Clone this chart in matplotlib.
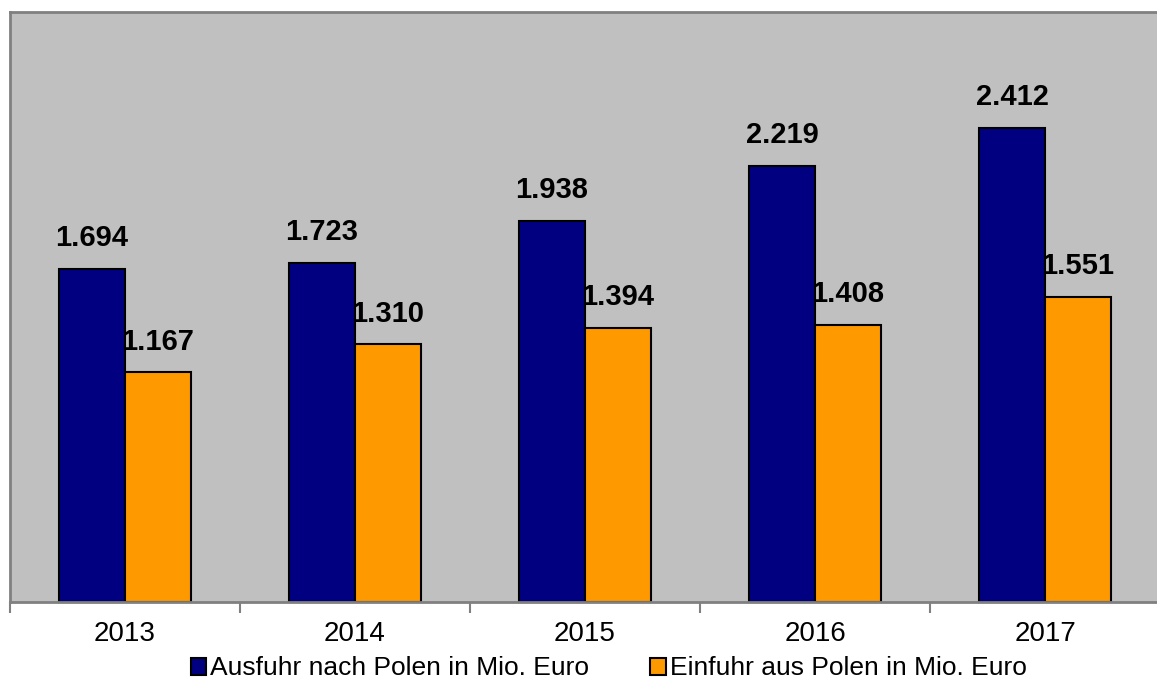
import numpy as np
import matplotlib.pyplot as plt
from matplotlib.patches import Patch

plt.rcParams['font.family'] = ['Liberation Sans', 'DejaVu Sans']

years = ["2013", "2014", "2015", "2016", "2017"]
ausfuhr = [1.694, 1.723, 1.938, 2.219, 2.412]
einfuhr = [1.167, 1.310, 1.394, 1.408, 1.551]
series_names = ["Ausfuhr nach Polen in Mio. Euro", "Einfuhr aus Polen in Mio. Euro"]

navy = "#000080"
orange = "#FF9900"

fig = plt.figure(figsize=(11.57, 6.87), dpi=100)
ax = fig.add_axes([10 / 1157, 85 / 687, 1150 / 1157, 590 / 687])
ax.set_facecolor("#C0C0C0")

x = np.arange(len(years))
w = 0.287
b1 = ax.bar(x - w / 2, ausfuhr, w, color=navy, edgecolor="black", linewidth=1.5)
b2 = ax.bar(x + w / 2, einfuhr, w, color=orange, edgecolor="black", linewidth=1.5)

def fmt(v):
    return f"{v:.3f}"

ax.bar_label(b1, labels=[fmt(v) for v in ausfuhr], padding=12, fontsize=21, fontweight="bold")
ax.bar_label(b2, labels=[fmt(v) for v in einfuhr], padding=12, fontsize=21, fontweight="bold")

ax.set_xlim(-0.5, 4.5)
ax.set_ylim(0, 3.0)
ax.set_yticks([])
ax.set_xticks(x)
ax.set_xticklabels(years, fontsize=20)
ax.tick_params(axis="x", which="major", length=0, pad=14)
ax.set_xticks(np.arange(-0.5, 5, 1), minor=True)
ax.tick_params(axis="x", which="minor", length=8, width=1.5, color="#808080")

for s in ["left", "top", "bottom"]:
    ax.spines[s].set_color("#808080")
    ax.spines[s].set_linewidth(2)
ax.spines["right"].set_visible(False)

handles = [Patch(facecolor=navy, edgecolor="black", linewidth=1.5),
           Patch(facecolor=orange, edgecolor="black", linewidth=1.5)]
fig.legend(handles, series_names, loc="center", bbox_to_anchor=(0.526, 0.027),
           ncol=2, frameon=False, fontsize=19, handlelength=0.6, handleheight=0.6,
           handletextpad=0.15, columnspacing=2.3)

fig.savefig("out.png", dpi=100)
